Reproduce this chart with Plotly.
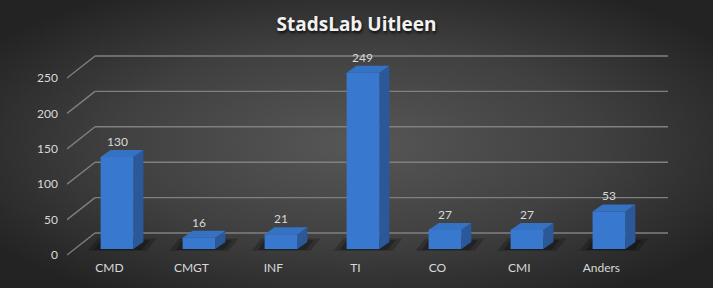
import base64
import plotly.graph_objects as go

# ---- data ----
categories = ["CMD", "CMGT", "INF", "TI", "CO", "CMI", "Anders"]
values = [130, 16, 21, 249, 27, 27, 53]
ytick_vals = [0, 50, 100, 150, 200, 250]
title_text = "StadsLab Uitleen"

# ---- pseudo-3D geometry (in axis units) ----
W, H = 713, 288
ML, MR, MT, MB = 67, 45, 40, 29
XR = [-0.61, 6.72]
YR = [-14.1, 295.2]
HALF = 0.2          # half bar width
DDX, DDY = 0.122, 9.9   # bar depth offset
WALL_DX, WALL_DY = 0.342, 31.1   # front plane -> back wall
FRONT_DX, FRONT_DY = -0.093, -8.5  # bar plane -> front plane
X_LEFT_FRONT = XR[0]
X_LEFT_BACK = XR[0] + WALL_DX
X_RIGHT = XR[1]

GRID = "#808080"
TXT = "#d9d9d9"
FRONT = "#3878cf"
SIDE = "#2a5898"
TOP = "#3572c4"
FONT = "Lato"

# background radial gradient as svg
svg = f'''<svg xmlns="http://www.w3.org/2000/svg" width="{W}" height="{H}">
<defs><radialGradient id="g" cx="50%" cy="50%" r="62%">
<stop offset="0" stop-color="#575757"/><stop offset="0.55" stop-color="#404040"/><stop offset="1" stop-color="#232323"/>
</radialGradient></defs><rect width="{W}" height="{H}" fill="url(#g)"/></svg>'''
bg_uri = "data:image/svg+xml;base64," + base64.b64encode(svg.encode()).decode()

pw, ph = W - ML - MR, H - MT - MB

fig = go.Figure()

shapes = []
# back wall gridlines + left diagonal lines
for v in ytick_vals:
    yb = v + FRONT_DY + WALL_DY
    shapes.append(dict(type="line", xref="x", yref="y", x0=X_LEFT_BACK, x1=X_RIGHT,
                       y0=yb, y1=yb, line=dict(color=GRID, width=1.4), layer="below"))
    shapes.append(dict(type="line", xref="x", yref="y", x0=X_LEFT_FRONT, x1=X_LEFT_BACK,
                       y0=v + FRONT_DY, y1=yb, line=dict(color=GRID, width=1.4), layer="below"))

xs = list(range(len(categories)))

# floor shadows
for i, v in zip(xs, values):
    sx = [i - 0.36, i + 0.36, i + 0.48, i - 0.24, i - 0.36]
    sy = [-2.5, -2.5, DDY + 5, DDY + 5, -2.5]
    fig.add_trace(go.Scatter(x=sx, y=sy, fill="toself", mode="lines", line=dict(width=0),
                             fillcolor="rgba(0,0,0,0.22)", hoverinfo="skip", showlegend=False))
    sx = [i - 0.28, i + 0.3, i + 0.4, i - 0.2, i - 0.28]
    sy = [-1.5, -1.5, DDY + 3, DDY + 3, -1.5]
    fig.add_trace(go.Scatter(x=sx, y=sy, fill="toself", mode="lines", line=dict(width=0),
                             fillcolor="rgba(0,0,0,0.25)", hoverinfo="skip", showlegend=False))

# side and top faces
for i, v in zip(xs, values):
    sx = [i + HALF, i + HALF + DDX, i + HALF + DDX, i + HALF, i + HALF]
    sy = [0, DDY, v + DDY, v, 0]
    fig.add_trace(go.Scatter(x=sx, y=sy, fill="toself", mode="lines", line=dict(width=0),
                             fillcolor=SIDE, hoverinfo="skip", showlegend=False))
    tx = [i - HALF, i + HALF, i + HALF + DDX, i - HALF + DDX, i - HALF]
    ty = [v, v, v + DDY, v + DDY, v]
    fig.add_trace(go.Scatter(x=tx, y=ty, fill="toself", mode="lines", line=dict(width=0),
                             fillcolor=TOP, hoverinfo="skip", showlegend=False))
    # front face
    fx = [i - HALF, i + HALF, i + HALF, i - HALF, i - HALF]
    fy = [0, 0, v, v, 0]
    fig.add_trace(go.Scatter(x=fx, y=fy, fill="toself", mode="lines", line=dict(width=0),
                             fillcolor=FRONT, hoverinfo="skip", showlegend=False))

# data labels
for i, v in zip(xs, values):
    fig.add_annotation(x=i, y=v + DDY, text=str(v), showarrow=False, yanchor="bottom",
                       xanchor="center", font=dict(family=FONT, size=12, color=TXT), yshift=-1)

fig.update_layout(
    width=W, height=H,
    margin=dict(l=ML, r=MR, t=MT, b=MB),
    paper_bgcolor="#2c2c2c",
    plot_bgcolor="rgba(0,0,0,0)",
    showlegend=False,
    shapes=shapes,
    images=[dict(source=bg_uri, xref="paper", yref="paper", x=-ML / pw, y=1 + MT / ph,
                 sizex=W / pw, sizey=H / ph, sizing="stretch", xanchor="left",
                 yanchor="top", layer="below")],
    title=dict(text=f"<b>{title_text}</b>", x=0.5, xref="container", y=1 - 24 / H,
               yref="container", xanchor="center", yanchor="middle",
               font=dict(family="Open Sans", size=19, color="#f2f2f2",
                         shadow="1px 2px 3px rgba(0,0,0,0.8)")),
    xaxis=dict(range=XR, showgrid=False, zeroline=False, showline=False,
               tickvals=[i + FRONT_DX for i in xs], ticktext=categories,
               tickfont=dict(family=FONT, size=12, color=TXT), ticks=""),
    yaxis=dict(range=YR, showgrid=False, zeroline=False, showline=False,
               tickvals=[v + FRONT_DY for v in ytick_vals], ticktext=[str(v) for v in ytick_vals],
               tickfont=dict(family=FONT, size=12, color=TXT), ticks="", ticklabelstandoff=8),
)

fig.write_html("out.html")
